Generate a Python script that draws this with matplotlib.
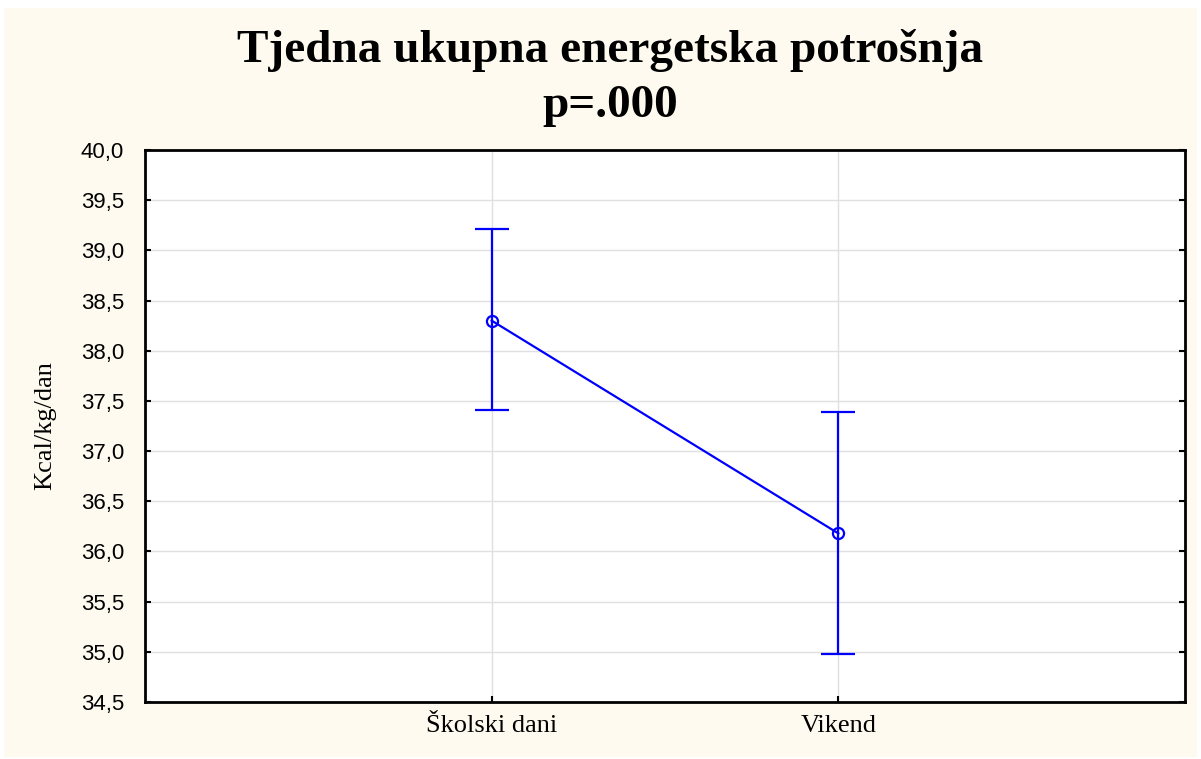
import matplotlib
matplotlib.use('Agg')
import matplotlib.pyplot as plt
from matplotlib.patches import Rectangle

# podaci
kategorije = ['Školski dani', 'Vikend']
srednje = [38.30, 36.18]
gornje = [39.21, 37.39]
donje = [37.41, 34.98]
y_ticks = [34.5, 35.0, 35.5, 36.0, 36.5, 37.0, 37.5, 38.0, 38.5, 39.0, 39.5, 40.0]

fig = plt.figure(figsize=(12.01, 7.59), dpi=100, facecolor='white')
fig.patches.append(Rectangle((4 / 1201, 2 / 759), 1193 / 1201, 749 / 759,
                             transform=fig.transFigure, facecolor='#fefaf0',
                             edgecolor='none', zorder=-10))

ax = fig.add_axes([145 / 1201, 1 - 702 / 759, 1040 / 1201, 552 / 759])
ax.set_facecolor('white')

x = list(range(len(kategorije)))
err_low = [m - d for m, d in zip(srednje, donje)]
err_high = [g - m for m, g in zip(srednje, gornje)]
ax.errorbar(x, srednje, yerr=[err_low, err_high], color='#0000ff', lw=1.6,
            marker='o', ms=8, mfc='none', mew=1.6, capsize=12.5, capthick=1.6,
            elinewidth=1.6, zorder=3)

ax.set_xlim(-1, 2)
ax.set_ylim(34.5, 40.0)
ax.set_xticks(x)
ax.set_xticklabels(kategorije, fontfamily='Liberation Serif', fontsize=19)
ax.set_yticks(y_ticks)
ax.set_yticklabels([('%.1f' % v).replace('.', ',') for v in y_ticks],
                   fontfamily='Liberation Sans', fontsize=16)
ax.tick_params(direction='in', length=4, width=1.5, right=True)
ax.tick_params(axis='y', pad=15)
ax.tick_params(axis='x', pad=9)
ax.grid(True, color='#e0e0e0', lw=1)
ax.set_axisbelow(True)
for s in ax.spines.values():
    s.set_linewidth(2)

ax.set_ylabel('Kcal/kg/dan', fontfamily='Liberation Serif', fontsize=19, labelpad=18)

fig.text(0.508, 1 - 50 / 759, 'Tjedna ukupna energetska potrošnja',
         ha='center', va='center', fontfamily='Liberation Serif',
         fontweight='bold', fontsize=34)
fig.text(0.508, 1 - 106 / 759, 'p=.000', ha='center', va='center',
         fontfamily='Liberation Serif', fontweight='bold', fontsize=34)

fig.savefig('out.png', dpi=100, facecolor=fig.get_facecolor())
